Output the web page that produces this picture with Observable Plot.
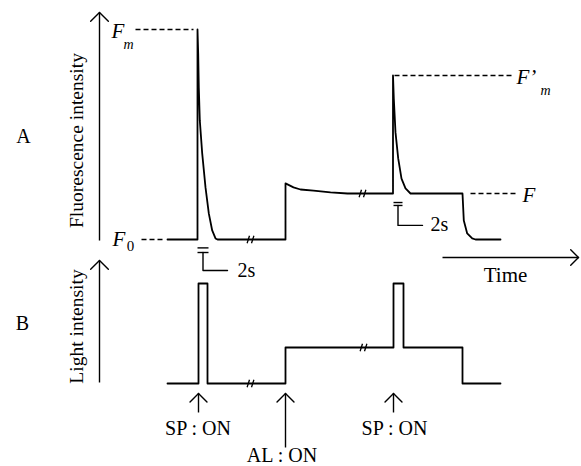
<!DOCTYPE html>
<html><head><meta charset="utf-8">
<script src="https://cdn.jsdelivr.net/npm/d3@7"></script>
<script src="https://cdn.jsdelivr.net/npm/@observablehq/plot@0.6"></script>
<style>html,body{margin:0;padding:0;background:#fff}</style>
</head><body>
<script>
// ---- Panel A: chlorophyll fluorescence trace (time: arbitrary units; F relative, F0 = 0, Fm = 1)
const fluorTime  = [6.7, 9.7, 9.7, 9.77, 9.83, 9.93, 10.17, 10.5, 10.83, 11.17, 11.5, 11.7,
                    18.5, 18.5, 19.3, 20.0, 21.3, 23.0, 24.7,
                    29.25, 29.25, 29.33, 29.5, 29.77, 30.1, 30.5, 31.0,
                    36.2, 36.33, 36.67, 37.17, 37.5, 40.0];
const fluorValue = [0, 0, 1, 0.886, 0.724, 0.567, 0.41, 0.248, 0.124, 0.043, 0.005, 0,
                    0, 0.267, 0.248, 0.238, 0.233, 0.224, 0.219,
                    0.219, 0.781, 0.671, 0.51, 0.386, 0.29, 0.243, 0.219,
                    0.219, 0.09, 0.029, 0.005, 0, 0];

// ---- Panel B: light intensity (relative: dark = 0, saturating pulse = 1, actinic light = 0.36)
const lightTime  = [6.7, 9.8, 9.8, 10.7, 10.7, 18.5, 18.5, 29.3, 29.3, 30.3, 30.3, 36.2, 36.2, 40.0];
const lightValue = [0, 0, 1, 1, 0, 0, 0.36, 0.36, 1, 1, 0.36, 0.36, 0, 0];

// ---- Reference levels (dashed) in panel A
const levelNames = ["Fm", "F0", "F'm", "F"];
const levelValue = [1, 0, 0.781, 0.219];
const levelStart = [3.5, 4.1, 29.4, 37.0];
const levelEnd   = [9.3, 6.3, 41.2, 41.7];

// ---- Time breaks "//"
const breakTime  = [15.0, 26.2, 15.0, 26.3];
const breakPanel = ["A", "A", "B", "B"];
const breakValue = [0, 0.219, 0, 0.36];

// ---- Events in panel B
const eventLabels = ["SP : ON", "AL : ON", "SP : ON"];
const eventTime   = [9.8, 18.5, 29.3];
const eventArrowLen = [0.19, 0.54, 0.19];   // arrow length in light units
const eventTextDepth = [0.455, 0.72, 0.455];
const eventTextTime  = [9.75, 18.15, 29.4];

// ---- layout helpers (panel B is drawn below panel A on one vertical scale)
const PX_T = 10, PX_V = 210;                 // pixels per unit of time / of F
const B0 = -144 / 210, BS = 100 / 210;       // offset & scale of panel B
const lv = L => B0 + L * BS;

const fluor = fluorTime.map((t, i) => ({t, v: fluorValue[i]}));
const light = lightTime.map((t, i) => ({t, v: lv(lightValue[i])}));
const levels = levelNames.map((n, i) => ({n, v: levelValue[i], t1: levelStart[i], t2: levelEnd[i]}));
const breaks = breakTime.map((t, i) => ({t, v: breakPanel[i] === "A" ? breakValue[i] : lv(breakValue[i])}));
// each break is two short slanted strokes
const breakStrokes = breaks.flatMap(b => [-0.22, 0.22].map(o => ({
  t1: b.t + o - 0.12, v1: b.v - 3.8 / PX_V, t2: b.t + o + 0.12, v2: b.v + 3.8 / PX_V
})));

// arrows: shafts + open heads
const arrows = [
  {x1: -0.1, y1: -0.005, x2: -0.1, y2: 1.081, head: 12.5},      // fluorescence axis
  {x1: -0.1, y1: lv(0.01), x2: -0.1, y2: lv(1.23), head: 12.5},  // light axis
  {x1: 34.2, y1: -0.086, x2: 47.8, y2: -0.086, head: 11},        // time axis
  ...eventTime.map((t, i) => ({x1: t, y1: lv(-0.10 - eventArrowLen[i]), x2: t, y2: lv(-0.10), head: 12}))
];
const heads = [];
arrows.forEach((a, k) => {
  const dx = (a.x2 - a.x1) * PX_T, dy = -(a.y2 - a.y1) * PX_V;
  const len = Math.hypot(dx, dy), ux = dx / len, uy = dy / len;
  for (const s of [1, -1]) {
    const ang = s * Math.PI / 4;
    const bx = -(ux * Math.cos(ang) - uy * Math.sin(ang)) * a.head;
    const by = -(ux * Math.sin(ang) + uy * Math.cos(ang)) * a.head;
    heads.push({k: k + "" + s, t: a.x2 + bx / PX_T, v: a.y2 - by / PX_V});
    heads.push({k: k + "" + s, t: a.x2, v: a.y2});
  }
});

// 2 s pulse-width brackets
const brackets = [
  {id: 1, pts: [[10.25, -0.062], [10.25, -0.148], [12.7, -0.148]], bars: [-0.040, -0.062], b1: 9.7, b2: 10.8},
  {id: 2, pts: [[29.75, 0.162], [29.75, 0.067], [32.2, 0.067]], bars: [0.176, 0.162], b1: 29.3, b2: 30.2}
];
const bracketLines = brackets.flatMap(b => b.pts.map(([t, v]) => ({id: b.id, t, v})));
const bracketBars = brackets.flatMap(b => b.bars.map(v => ({t1: b.b1, t2: b.b2, v})));

const serif = "'Liberation Serif', 'Times New Roman', serif";
const txt = (data, o) => Plot.text(data, {fontFamily: serif, fill: "black", ...o});

const chart = Plot.plot({
  width: 581, height: 466,
  marginTop: 0, marginRight: 0, marginBottom: 0, marginLeft: 0,
  style: {background: "white", color: "black", fontFamily: serif},
  x: {domain: [-10, 48.1], axis: null},
  y: {domain: [-1.081, 1.138], axis: null},
  marks: [
    // dashed reference levels
    Plot.link(levels, {x1: "t1", x2: "t2", y1: "v", y2: "v", stroke: "black", strokeWidth: 1.4, strokeDasharray: "5,3"}),
    // traces
    Plot.line(fluor, {x: "t", y: "v", stroke: "black", strokeWidth: 1.8, curve: "linear"}),
    Plot.line(light, {x: "t", y: "v", stroke: "black", strokeWidth: 1.8, curve: "linear"}),
    // breaks
    Plot.link(breakStrokes, {x1: "t1", y1: "v1", x2: "t2", y2: "v2", stroke: "black", strokeWidth: 1.3}),
    // arrows
    Plot.link(arrows, {x1: "x1", y1: "y1", x2: "x2", y2: "y2", stroke: "black", strokeWidth: 1.4}),
    Plot.line(heads, {x: "t", y: "v", z: "k", stroke: "black", strokeWidth: 1.4}),
    // brackets
    Plot.line(bracketLines, {x: "t", y: "v", z: "id", stroke: "black", strokeWidth: 1.4}),
    Plot.link(bracketBars, {x1: "t1", x2: "t2", y1: "v", y2: "v", stroke: "black", strokeWidth: 1.4}),
    txt([{t: 13.7, v: -0.148}, {t: 33.0, v: 0.072}], {x: "t", y: "v", text: () => "2s", fontSize: 20, textAnchor: "start"}),
    // panel letters and axis titles
    txt([{t: -7.7, v: 0.49, s: "A"}, {t: -7.8, v: lv(0.6), s: "B"}], {x: "t", y: "v", text: "s", fontSize: 20}),
    txt([{t: -2.4, v: 0.471, s: "Fluorescence intensity"}, {t: -2.4, v: lv(0.57), s: "Light intensity"}],
        {x: "t", y: "v", text: "s", fontSize: 19.5, rotate: -90}),
    txt([{t: 40.5, v: -0.171}], {x: "t", y: "v", text: () => "Time", fontSize: 21}),
    // level labels
    txt([{t: 1.1, v: 0.993, s: "F"}, {t: 1.2, v: 0, s: "F"}, {t: 41.6, v: 0.771, s: "F\u2019"}, {t: 42.2, v: 0.21, s: "F"}],
        {x: "t", y: "v", text: "s", fontSize: 21, fontStyle: "italic", textAnchor: "start"}),
    txt([{t: 2.8, v: 0.929, s: "m"}, {t: 44.5, v: 0.71, s: "m"}],
        {x: "t", y: "v", text: "s", fontSize: 14, fontStyle: "italic"}),
    txt([{t: 3.0, v: -0.033, s: "0"}], {x: "t", y: "v", text: "s", fontSize: 15}),
    // events
    txt(eventLabels.map((s, i) => ({s, t: eventTextTime[i], v: lv(-eventTextDepth[i])})),
        {x: "t", y: "v", text: "s", fontSize: 20})
  ]
});
document.body.appendChild(chart);
</script>
</body></html>
